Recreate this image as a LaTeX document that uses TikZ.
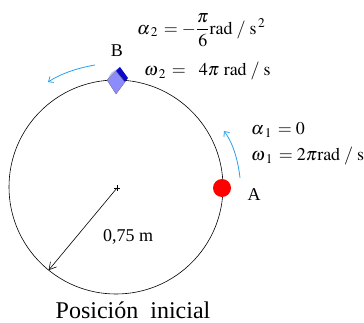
\documentclass[tikz,border=0pt]{standalone}
\usepackage{mathptmx}
\usepackage{fontspec}
\setmainfont{Liberation Serif}
\usetikzlibrary{arrows.meta}
\definecolor{motioncol}{RGB}{40,160,240}
\definecolor{facecol}{RGB}{140,140,255}
\definecolor{topcol}{RGB}{190,190,255}
\definecolor{edgecol}{RGB}{10,10,200}
\begin{document}
\begin{tikzpicture}[x=1pt,y=-1pt,
  lbl/.style={inner sep=0pt,font=\fontsize{18}{20}\selectfont},
  eqn/.style={inner sep=0pt,anchor=west,font=\fontsize{18}{20}\selectfont},
  motion/.style={draw=motioncol,line width=0.8pt,-{Straight Barb[length=4pt,width=7pt]}},
  radarrow/.style={draw=black,line width=0.6pt,-{Straight Barb[length=7pt,width=8pt]}}]
\useasboundingbox (0,0) rectangle (364,323);
% wheel
\node[circle,draw,line width=0.6pt,minimum size=214pt,inner sep=0pt,outer sep=0pt] (wheel) at (116,187) {};
\coordinate (O) at (117,188);
\draw[line width=0.5pt] (114,188) -- (120,188) (117,185) -- (117,191);
\draw[radarrow] (O) -- (wheel.231);
\node[lbl] (rlabel) at (128,237) {0,75 m};
% A
\node[circle,fill=red,minimum size=18pt,inner sep=0pt] (A) at (222,188) {};
\node[lbl] (Alabel) at (254,195) {A};
\coordinate (a1) at (240,178);
\coordinate (a2) at (224,131);
\draw[motion] (a1) .. controls (238,160) and (233,143) .. (a2);
\node[eqn] (alpha1) at (251,130) {${\alpha}_{\mkern3mu 1}\,= 0$};
\node[eqn] (omega1) at (251,156) {${\omega}_{\mkern3mu 1}\,= 2\pi\mathrm{rad}\;/\;\mathrm{s}$};
% B
\coordinate (B) at (116,81);
\fill[facecol] (107,80) -- (116,71) -- (125,82) -- (116,94) -- cycle;
\fill[topcol] (107,80) -- (111,73) -- (120,67) -- (116,71) -- cycle;
\fill[edgecol] (116,71) -- (120,67) -- (128,78) -- (125,82) -- cycle;
\draw[line width=0.3pt,black!60] (107,80) -- (116,71) -- (125,82) -- (116,94) -- cycle;
\node[lbl] (Blabel) at (117,51) {B};
\coordinate (b1) at (95,65);
\coordinate (b2) at (48,82);
\draw[motion] (b1) .. controls (78,68) and (62,73) .. (b2);
\node[eqn] (alpha2) at (137,30) {${\alpha}_{\mkern3mu 2}\,= -{\displaystyle\frac{\pi}{6}}\mathrm{rad}\;/\;\mathrm{s}^{\,2}$};
\node[eqn] (omega2) at (144,71) {${\omega}_{\mkern3mu 2}\,= \ \ 4\pi\ \mathrm{rad}\;/\;\mathrm{s}$};
% caption
\node[inner sep=0pt,font=\fontsize{24}{26}\selectfont] (caption) at (133,310) {Posición\ \ inicial};
\end{tikzpicture}
\end{document}
